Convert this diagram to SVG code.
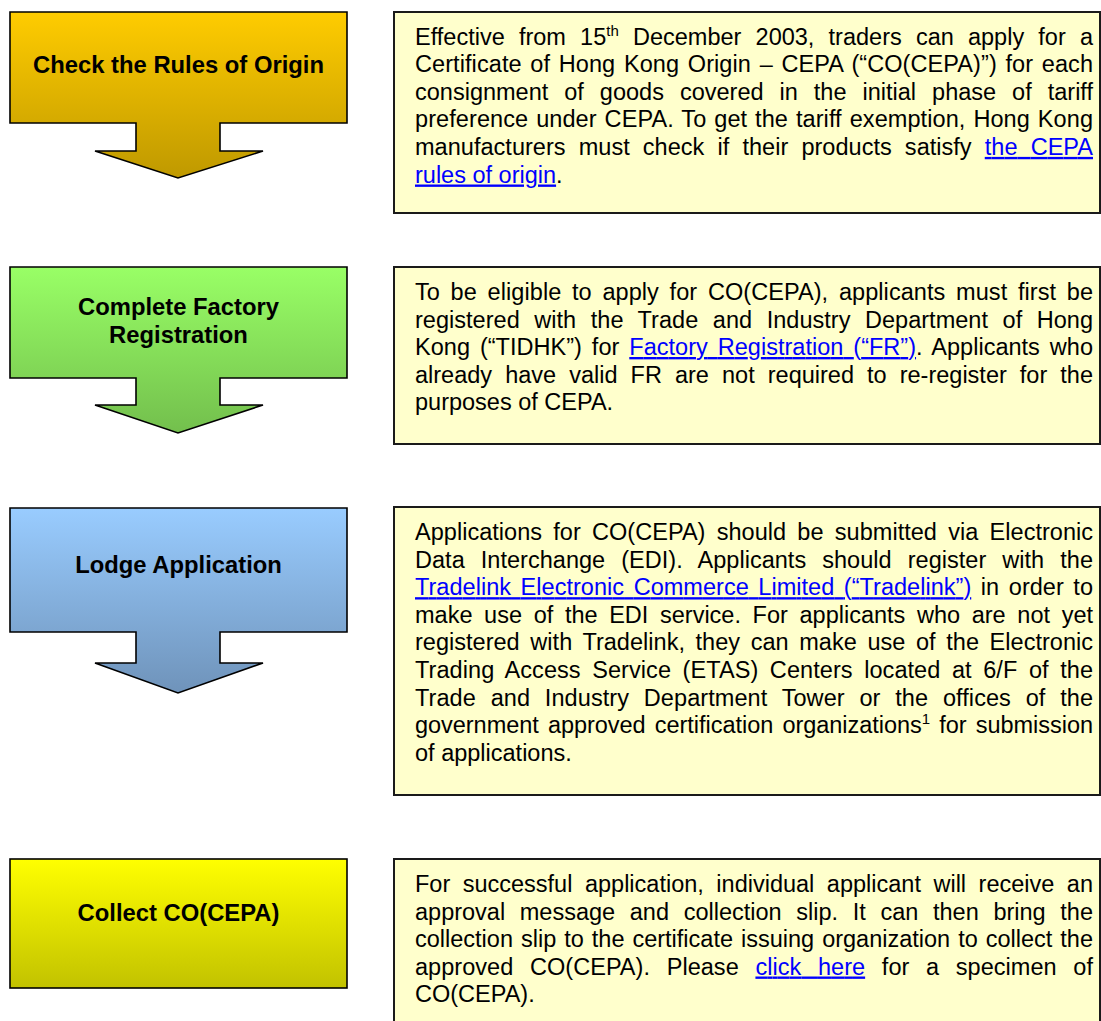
<svg xmlns="http://www.w3.org/2000/svg" width="1101" height="1021" viewBox="0 0 1101 1021">
<defs>
  <linearGradient id="gGold" x1="0" y1="0" x2="0" y2="1"><stop offset="0" stop-color="#FFCC00"/><stop offset="1" stop-color="#BF9900"/></linearGradient>
  <linearGradient id="gGreen" x1="0" y1="0" x2="0" y2="1"><stop offset="0" stop-color="#99FF66"/><stop offset="1" stop-color="#73BF4D"/></linearGradient>
  <linearGradient id="gBlue" x1="0" y1="0" x2="0" y2="1"><stop offset="0" stop-color="#99CCFF"/><stop offset="1" stop-color="#6F93BA"/></linearGradient>
  <linearGradient id="gYellow" x1="0" y1="0" x2="0" y2="1"><stop offset="0" stop-color="#FFFF00"/><stop offset="1" stop-color="#C2C200"/></linearGradient>
</defs>
<style>
  .step { stroke: #000; stroke-width: 1.6; stroke-linejoin: miter; }
  .note { fill: #FFFFCC; stroke: #1a1a1a; stroke-width: 2; }
  .head { font-family: "Liberation Sans", Arial, sans-serif; font-weight: bold; font-size: 23.8px; fill: #000; text-anchor: middle; }
  .body { font-family: "Liberation Sans", Arial, sans-serif; font-size: 23.5px; fill: #000; }
  .link { fill: #0000FF; text-decoration: underline; }
</style>
<rect width="1101" height="1021" fill="#FFFFFF"/>

<g id="connectors"></g>

<g id="step1">
  <path class="step" fill="url(#gGold)" d="M10,12 H347 V123 H220 V151 H263 L178,178 L95,151 H136 V123 H10 Z"/>
  <text class="head" x="178.5" y="73">Check the Rules of Origin</text>
</g>
<g id="note1">
  <rect class="note" x="394" y="12" width="706" height="201"/>
  <text class="body" x="415" y="44.5" word-spacing="7.6" textLength="678" lengthAdjust="spacing">Effective from 15<tspan font-size="15" dy="-9">th</tspan><tspan dy="9"> December 2003, traders can apply for a</tspan></text>
  <text class="body" x="415" y="72.1" word-spacing="2.06" textLength="678" lengthAdjust="spacing">Certificate of Hong Kong Origin – CEPA (“CO(CEPA)”) for each</text>
  <text class="body" x="415" y="99.7" word-spacing="9.44" textLength="678" lengthAdjust="spacing">consignment of goods covered in the initial phase of tariff</text>
  <text class="body" x="415" y="127.3" word-spacing="1.31" textLength="678" lengthAdjust="spacing">preference under CEPA. To get the tariff exemption, Hong Kong</text>
  <text class="body" x="415" y="154.9" word-spacing="6.55" textLength="678" lengthAdjust="spacing">manufacturers must check if their products satisfy <tspan class="link">the CEPA</tspan></text>
  <text class="body" x="415" y="182.5"><tspan class="link">rules of origin</tspan>.</text>
</g>

<g id="step2">
  <path class="step" fill="url(#gGreen)" d="M10,267 H347 V378 H220 V405 H263 L178,433 L95,405 H136 V378 H10 Z"/>
  <text class="head" x="178.5" y="315">Complete Factory</text>
  <text class="head" x="178.5" y="343">Registration</text>
</g>
<g id="note2">
  <rect class="note" x="394" y="267" width="706" height="177"/>
  <text class="body" x="415" y="300" word-spacing="4.07" textLength="678" lengthAdjust="spacing">To be eligible to apply for CO(CEPA), applicants must first be</text>
  <text class="body" x="415" y="327.5" word-spacing="8.0" textLength="678" lengthAdjust="spacing">registered with the Trade and Industry Department of Hong</text>
  <text class="body" x="415" y="355" word-spacing="3.4" textLength="678" lengthAdjust="spacing">Kong (“TIDHK”) for <tspan class="link">Factory Registration (“FR”)</tspan>. Applicants who</text>
  <text class="body" x="415" y="382.5" word-spacing="6.54" textLength="678" lengthAdjust="spacing">already have valid FR are not required to re-register for the</text>
  <text class="body" x="415" y="410">purposes of CEPA.</text>
</g>

<g id="step3">
  <path class="step" fill="url(#gBlue)" d="M10,508 H347 V632 H220 V663 H263 L178,693 L95,663 H136 V632 H10 Z"/>
  <text class="head" x="178.5" y="573">Lodge Application</text>
</g>
<g id="note3">
  <rect class="note" x="394" y="507" width="706" height="288"/>
  <text class="body" x="415" y="540" word-spacing="4.69" textLength="678" lengthAdjust="spacing">Applications for CO(CEPA) should be submitted via Electronic</text>
  <text class="body" x="415" y="567.6" word-spacing="9.53" textLength="678" lengthAdjust="spacing">Data Interchange (EDI). Applicants should register with the</text>
  <text class="body" x="415" y="595.2" word-spacing="3.03" textLength="678" lengthAdjust="spacing"><tspan class="link">Tradelink Electronic Commerce Limited (“Tradelink”)</tspan> in order to</text>
  <text class="body" x="415" y="622.8" word-spacing="5.12" textLength="678" lengthAdjust="spacing">make use of the EDI service. For applicants who are not yet</text>
  <text class="body" x="415" y="650.4" word-spacing="4.08" textLength="678" lengthAdjust="spacing">registered with Tradelink, they can make use of the Electronic</text>
  <text class="body" x="415" y="678" word-spacing="4.95" textLength="678" lengthAdjust="spacing">Trading Access Service (ETAS) Centers located at 6/F of the</text>
  <text class="body" x="415" y="705.6" word-spacing="8.14" textLength="678" lengthAdjust="spacing">Trade and Industry Department Tower or the offices of the</text>
  <text class="body" x="415" y="733.2" word-spacing="2.7" textLength="678" lengthAdjust="spacing">government approved certification organizations<tspan font-size="15" dy="-9">1</tspan><tspan dy="9"> for submission</tspan></text>
  <text class="body" x="415" y="760.8">of applications.</text>
</g>

<g id="step4">
  <rect class="step" fill="url(#gYellow)" x="10" y="859" width="337" height="129"/>
  <text class="head" x="178.5" y="921">Collect CO(CEPA)</text>
</g>
<g id="note4">
  <rect class="note" x="394" y="859" width="706" height="180"/>
  <text class="body" x="415" y="892" word-spacing="6.0" textLength="678" lengthAdjust="spacing">For successful application, individual applicant will receive an</text>
  <text class="body" x="415" y="919.5" word-spacing="8.13" textLength="678" lengthAdjust="spacing">approval message and collection slip. It can then bring the</text>
  <text class="body" x="415" y="947" word-spacing="1.47" textLength="678" lengthAdjust="spacing">collection slip to the certificate issuing organization to collect the</text>
  <text class="body" x="415" y="974.5" word-spacing="10.1" textLength="678" lengthAdjust="spacing">approved CO(CEPA). Please <tspan class="link">click here</tspan> for a specimen of</text>
  <text class="body" x="415" y="1002">CO(CEPA).</text>
</g>
</svg>
